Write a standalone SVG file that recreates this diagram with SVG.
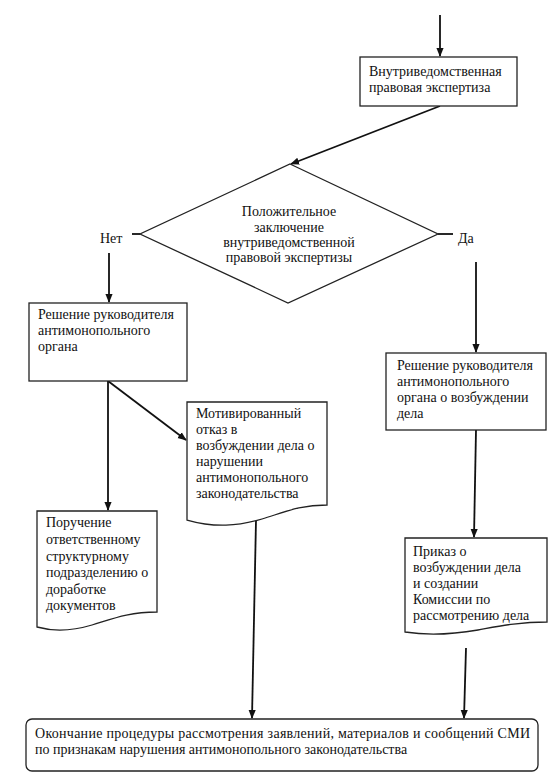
<svg xmlns="http://www.w3.org/2000/svg" width="554" height="776" viewBox="0 0 554 776" font-family="'Liberation Serif', 'Times New Roman', serif">
<defs>
<style>
text{font-family:'Liberation Serif','Times New Roman',serif;font-size:14px;fill:#111}
.box{fill:#fff;stroke:#222;stroke-width:1.3}
.ln{fill:none;stroke:#111;stroke-width:1.8}
</style>
<marker id="ah" viewBox="0 0 10 10" refX="9" refY="5" markerWidth="9" markerHeight="9" orient="auto" markerUnits="userSpaceOnUse"><path d="M0,1 L10,5 L0,9 Z" fill="#111"/></marker>
</defs>
<rect width="554" height="776" fill="#fff"/>
<g id="connectors">
<line class="ln" x1="440" y1="15" x2="440" y2="56" marker-end="url(#ah)"/>
<line class="ln" x1="440" y1="106" x2="291" y2="164" stroke-width="2.4" marker-end="url(#ah)"/>
<line class="ln" x1="132" y1="234" x2="140" y2="234"/>
<line class="ln" x1="438" y1="234" x2="453" y2="234"/>
<line class="ln" x1="109" y1="253" x2="109" y2="302" marker-end="url(#ah)"/>
<line class="ln" x1="476" y1="262" x2="476" y2="352" marker-end="url(#ah)"/>
<line class="ln" x1="108" y1="381" x2="108" y2="510" marker-end="url(#ah)"/>
<line class="ln" x1="108" y1="381" x2="186" y2="440" marker-end="url(#ah)"/>
<line class="ln" x1="476" y1="430" x2="474" y2="537" marker-end="url(#ah)"/>
<line class="ln" x1="256" y1="520" x2="252" y2="718" marker-end="url(#ah)"/>
<line class="ln" x1="466" y1="648" x2="464" y2="718" marker-end="url(#ah)"/>
</g>
<g id="n_expertise">
<rect class="box" x="360" y="57" width="157" height="49"/>
<text x="369" y="76">Внутриведомственная</text>
<text x="369" y="92">правовая экспертиза</text>
</g>
<g id="n_decision">
<polygon class="box" points="290,164 438,234 288,303 140,234"/>
<text x="289" y="216" text-anchor="middle">Положительное</text>
<text x="289" y="232" text-anchor="middle">заключение</text>
<text x="289" y="247" text-anchor="middle">внутриведомственной</text>
<text x="289" y="262" text-anchor="middle">правовой экспертизы</text>
</g>
<g id="l_no"><text x="100" y="243">Нет</text></g>
<g id="l_yes"><text x="458" y="243">Да</text></g>
<g id="n_head_left">
<rect class="box" x="29" y="303" width="158" height="78"/>
<text x="38" y="319">Решение руководителя</text>
<text x="38" y="335">антимонопольного</text>
<text x="38" y="351">органа</text>
</g>
<g id="n_refusal">
<path class="box" d="M187,402 H327 V505 C300,505 285,512 262,519 C238,526 215,528 187,520 Z"/>
<text x="196" y="418">Мотивированный</text>
<text x="196" y="434">отказ в</text>
<text x="196" y="450">возбуждении дела о</text>
<text x="196" y="466">нарушении</text>
<text x="196" y="482">антимонопольного</text>
<text x="196" y="498">законодательства</text>
</g>
<g id="n_head_right">
<rect class="box" x="386" y="353" width="160" height="77"/>
<text x="397" y="370">Решение руководителя</text>
<text x="397" y="386">антимонопольного</text>
<text x="397" y="402">органа о возбуждении</text>
<text x="397" y="418">дела</text>
</g>
<g id="n_instruction">
<path class="box" d="M37,511 H157 V612 C128,612 112,619 92,625 C72,631 55,632 37,627 Z"/>
<text x="46" y="527">Поручение</text>
<text x="46" y="544">ответственному</text>
<text x="46" y="561">структурному</text>
<text x="46" y="577">подразделению о</text>
<text x="46" y="594">доработке</text>
<text x="46" y="610">документов</text>
</g>
<g id="n_order">
<path class="box" d="M405,538 H547 V622 C518,622 500,626 478,630 C455,634 430,636 405,632 Z"/>
<text x="413" y="556">Приказ о</text>
<text x="413" y="572">возбуждении дела</text>
<text x="413" y="588">и создании</text>
<text x="413" y="604">Комиссии по</text>
<text x="413" y="620">рассмотрению дела</text>
</g>
<g id="n_end">
<rect class="box" x="26" y="719" width="512" height="52" rx="6"/>
<text x="35" y="738" textLength="495" lengthAdjust="spacing">Окончание процедуры рассмотрения заявлений, материалов и сообщений СМИ</text>
<text x="35" y="754">по признакам нарушения антимонопольного законодательства</text>
</g>
</svg>
